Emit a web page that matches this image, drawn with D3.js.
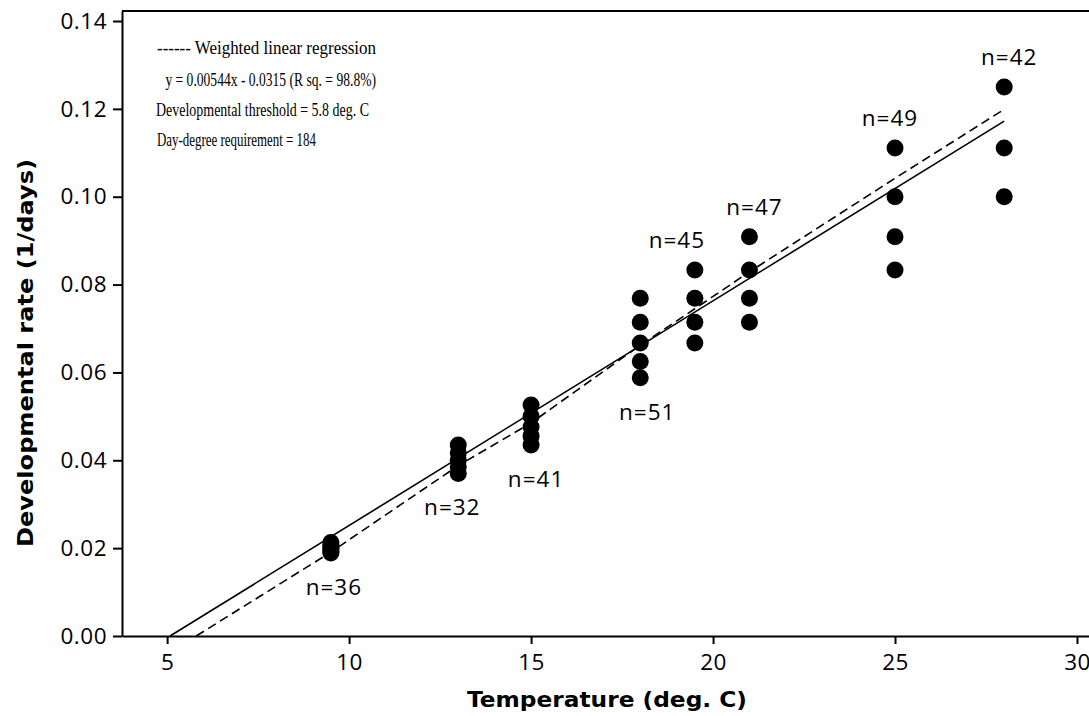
<!DOCTYPE html>
<html>
<head>
<meta charset="utf-8">
<script src="https://cdn.jsdelivr.net/npm/d3@7"></script>
<style>
  body { margin: 0; background: #fff; }
  svg { display: block; }
</style>
</head>
<body>
<script>
// rearing temperatures (deg. C) and the distinct rates seen at each (1/days)
const temperatures = [9.5, 13, 15, 18, 19.5, 21, 25, 28];
const rates = [
  [0.0213, 0.0208, 0.0204, 0.0200, 0.0196, 0.0192, 0.0189],
  [0.0435, 0.0417, 0.0400, 0.0385, 0.0370],
  [0.0526, 0.0500, 0.0476, 0.0455, 0.0435],
  [0.0769, 0.0714, 0.0667, 0.0625, 0.0588],
  [0.0833, 0.0769, 0.0714, 0.0667],
  [0.0909, 0.0833, 0.0769, 0.0714],
  [0.1111, 0.1000, 0.0909, 0.0833],
  [0.1250, 0.1111, 0.1000]
];
const sampleSizes = [36, 32, 41, 51, 45, 47, 49, 42];
const labelSide = ["below", "below", "below", "below", "above", "above", "above", "above"];

// ordinary regression (solid) and weighted fit (dashed)
const solidX = [5.08, 28];
const solidY = [0, 0.1172];
const dashedX = [5.8, 9.5, 13, 15, 18, 19.5, 21, 25, 28];
const dashedY = [0, 0.0191, 0.0388, 0.0485, 0.0662, 0.0745, 0.0829, 0.1042, 0.1199];

const xTicks = [5, 10, 15, 20, 25, 30];
const yTicks = [0, 0.02, 0.04, 0.06, 0.08, 0.10, 0.12, 0.14];

const notes = [
  "------ Weighted linear regression",
  " y = 0.00544x - 0.0315 (R sq. = 98.8%)",
  "Developmental threshold = 5.8 deg. C",
  "Day-degree requirement = 184"
];

const width = 1089, height = 716;
const svg = d3.select("body").append("svg")
  .attr("width", width)
  .attr("height", height);

const x = d3.scaleLinear().domain([3.76, 30.33]).range([122, 1089]);
const y = d3.scaleLinear().domain([0, 0.14228]).range([636, 11]);

const tickFont = "'Open Sans', 'Noto Sans', sans-serif";
const titleFont = "'DejaVu Sans', Verdana, sans-serif";

// x axis
const gx = svg.append("g")
  .attr("transform", "translate(0,636)")
  .call(d3.axisBottom(x).tickValues(xTicks).tickFormat(d3.format("d"))
    .tickSize(8).tickSizeOuter(0).tickPadding(10));

// y axis
const gy = svg.append("g")
  .attr("transform", "translate(122,0)")
  .call(d3.axisLeft(y).tickValues(yTicks).tickFormat(d3.format(".2f"))
    .tickSize(9).tickSizeOuter(0).tickPadding(6));

[gx, gy].forEach(g => {
  g.attr("font-family", tickFont).attr("font-size", 22.5);
  g.selectAll("path, line").attr("stroke", "#000").attr("stroke-width", 2);
  g.selectAll("text").attr("fill", "#000").attr("letter-spacing", 0.5);
});

// top border
svg.append("line")
  .attr("x1", x.range()[0]).attr("x2", x.range()[1])
  .attr("y1", y.range()[1]).attr("y2", y.range()[1])
  .attr("stroke", "#000").attr("stroke-width", 2);

// regression lines
const line = d3.line().x(d => x(d[0])).y(d => y(d[1]));

svg.append("path")
  .datum(d3.zip(solidX, solidY))
  .attr("d", line)
  .attr("fill", "none")
  .attr("stroke", "#000")
  .attr("stroke-width", 1.6);

svg.append("path")
  .datum(d3.zip(dashedX, dashedY))
  .attr("d", line)
  .attr("fill", "none")
  .attr("stroke", "#000")
  .attr("stroke-width", 1.6)
  .attr("stroke-dasharray", "9,5");

// points
const points = temperatures.flatMap((t, i) => rates[i].map(r => ({ t, r })));
svg.append("g").selectAll("circle")
  .data(points)
  .join("circle")
  .attr("cx", d => x(d.t))
  .attr("cy", d => y(d.r))
  .attr("r", 8.5)
  .attr("fill", "#000");

// sample size labels
const labelDx = [3, -6, 5, 7, -18, 5, -5, 5];
svg.append("g").selectAll("text")
  .data(temperatures)
  .join("text")
  .attr("x", (t, i) => x(t) + labelDx[i])
  .attr("y", (t, i) => labelSide[i] === "below"
    ? y(d3.min(rates[i])) + 42
    : y(d3.max(rates[i])) - 22)
  .attr("text-anchor", "middle")
  .attr("font-family", tickFont)
  .attr("font-size", 22.5)
  .attr("letter-spacing", 1)
  .text((t, i) => "n=" + sampleSizes[i]);

// notes text
const noteX = [157, 162, 156, 157];
const noteW = [219, 214, 213, 159];
const noteY = [54, 86, 116, 146];
svg.append("g").selectAll("text")
  .data(notes)
  .join("text")
  .attr("x", (d, i) => noteX[i])
  .attr("y", (d, i) => noteY[i])
  .attr("font-family", "'Liberation Serif', 'Times New Roman', serif")
  .attr("font-size", 19.5)
  .attr("textLength", (d, i) => noteW[i])
  .attr("lengthAdjust", "spacingAndGlyphs")
  .attr("xml:space", "preserve")
  .style("white-space", "pre")
  .text(d => d);

// axis titles
svg.append("text")
  .attr("x", 607)
  .attr("y", 707)
  .attr("text-anchor", "middle")
  .attr("font-family", titleFont)
  .attr("font-weight", "bold")
  .attr("font-size", 22)
  .attr("textLength", 280)
  .attr("lengthAdjust", "spacingAndGlyphs")
  .text("Temperature (deg. C)");

svg.append("text")
  .attr("transform", "translate(33,353) rotate(-90)")
  .attr("text-anchor", "middle")
  .attr("font-family", titleFont)
  .attr("font-weight", "bold")
  .attr("font-size", 22)
  .attr("textLength", 388)
  .attr("lengthAdjust", "spacingAndGlyphs")
  .text("Developmental rate (1/days)");
</script>
</body>
</html>
